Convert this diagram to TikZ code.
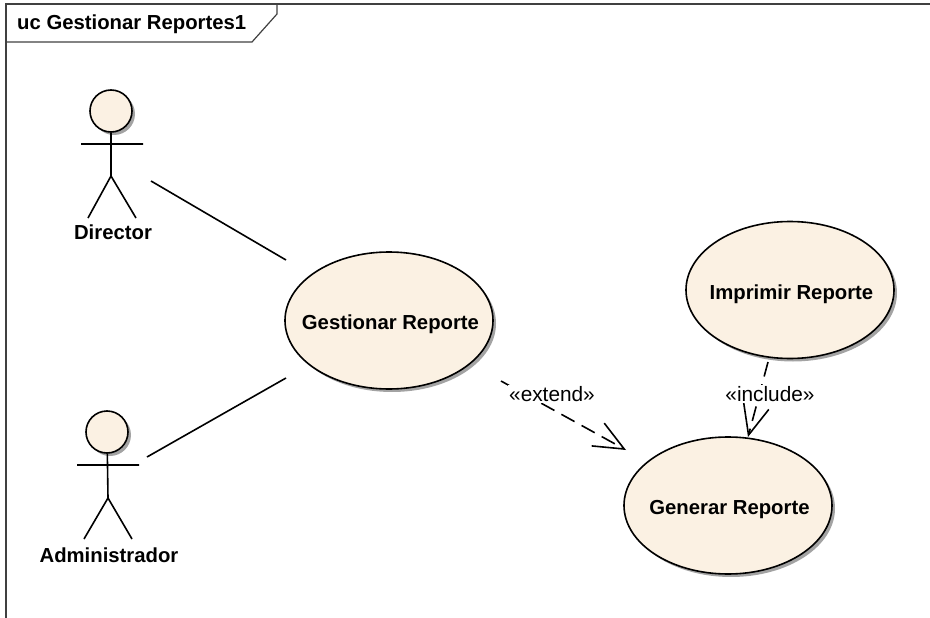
\documentclass[tikz,border=0pt]{standalone}
\usepackage{fontspec}
\setmainfont{Liberation Sans}
\usetikzlibrary{shapes.geometric,arrows.meta,shadows}
\definecolor{ucfill}{HTML}{FBF1E3}
\newcommand{\uclabel}[1]{\raisebox{-9pt}[0pt][0pt]{\makebox[0pt]{\hspace*{3pt}#1}}}
\tikzset{
  x=1pt,y=-1pt,
  ln/.style={line width=1.6pt,black},
  ucase/.style={ellipse,draw=black,line width=1.6pt,fill=ucfill,inner sep=0pt,
    minimum width=208pt,minimum height=137pt,
    font=\fontsize{20.3}{22}\selectfont\bfseries,
    drop shadow={shadow xshift=3pt,shadow yshift=-3pt,fill=black!45,opacity=0.8}},
  headc/.style={circle,draw=black,line width=1.6pt,fill=ucfill,inner sep=0pt,minimum size=42pt,
    drop shadow={shadow xshift=3pt,shadow yshift=-3pt,fill=black!45,opacity=0.8}},
  alabel/.style={font=\fontsize{20.3}{22}\selectfont\bfseries,inner sep=0pt},
  slabel/.style={font=\fontsize{20.8}{22}\selectfont,fill=white,inner sep=1pt},
  dep/.style={ln,dash pattern=on 15pt off 8pt},
}
\begin{document}
\begin{tikzpicture}
\useasboundingbox (0,0) rectangle (930,618);
% frame
\coordinate (ftl) at (6,4);
\coordinate (ftr) at (930,4);
\coordinate (fbl) at (6,618);
\draw[line width=1.2pt,black!75] (ftr) -- (ftl) -- (fbl);
\draw[line width=1.2pt,black!75] (6,42) -- (252,42) -- (277,14) -- (277,4);
\node[anchor=west,inner sep=0pt,font=\fontsize{20.3}{22}\selectfont\bfseries] (title) at (17,24) {uc Gestionar Reportes1};
% director
\node[headc] (dh) at (111,111) {};
\coordinate (dn) at (111,176);
\coordinate (dal) at (81,144);
\coordinate (dar) at (143,144);
\coordinate (dfl) at (88,218);
\coordinate (dfr) at (136,218);
\draw[ln] (dh) -- (dn) (dal) -- (dar) (dfl) -- (dn) -- (dfr);
\node[alabel] (dl) at (113,232) {Director};
% administrador
\node[headc] (ah) at (107,432) {};
\coordinate (an) at (108,498);
\coordinate (aal) at (77,465);
\coordinate (aar) at (139,465);
\coordinate (afl) at (84,539);
\coordinate (afr) at (132,539);
\draw[ln] (ah) -- (an) (aal) -- (aar) (afl) -- (an) -- (afr);
\node[alabel] (al) at (109,555) {Administrador};
% use cases
\node[ucase] (gest) at (389,320.5) {\uclabel{Gestionar Reporte}};
\node[ucase] (impr) at (790,290) {\uclabel{Imprimir Reporte}};
\node[ucase] (gene) at (728,505.5) {\uclabel{Generar Reporte}};
% associations
\coordinate (d1) at (151,181);
\coordinate (g1) at (286,260);
\coordinate (a1) at (147,457);
\coordinate (g2) at (286,378);
\draw[ln] (d1) -- (g1);
\draw[ln] (a1) -- (g2);
% dependencies
\coordinate (e1) at (501,381);
\coordinate (e2) at (626,450);
\coordinate (i1) at (768,362);
\coordinate (i2) at (748,437);
\draw[dep,-{Straight Barb[length=30pt,width=26pt,line width=1.6pt]}] (e1) -- (e2);
\draw[dep,-{Straight Barb[length=30pt,width=26pt,line width=1.6pt]}] (i1) -- (i2);
\node[slabel] (ext) at (552,394) {«extend»};
\node[slabel] (inc) at (770,394) {«include»};
\end{tikzpicture}
\end{document}
